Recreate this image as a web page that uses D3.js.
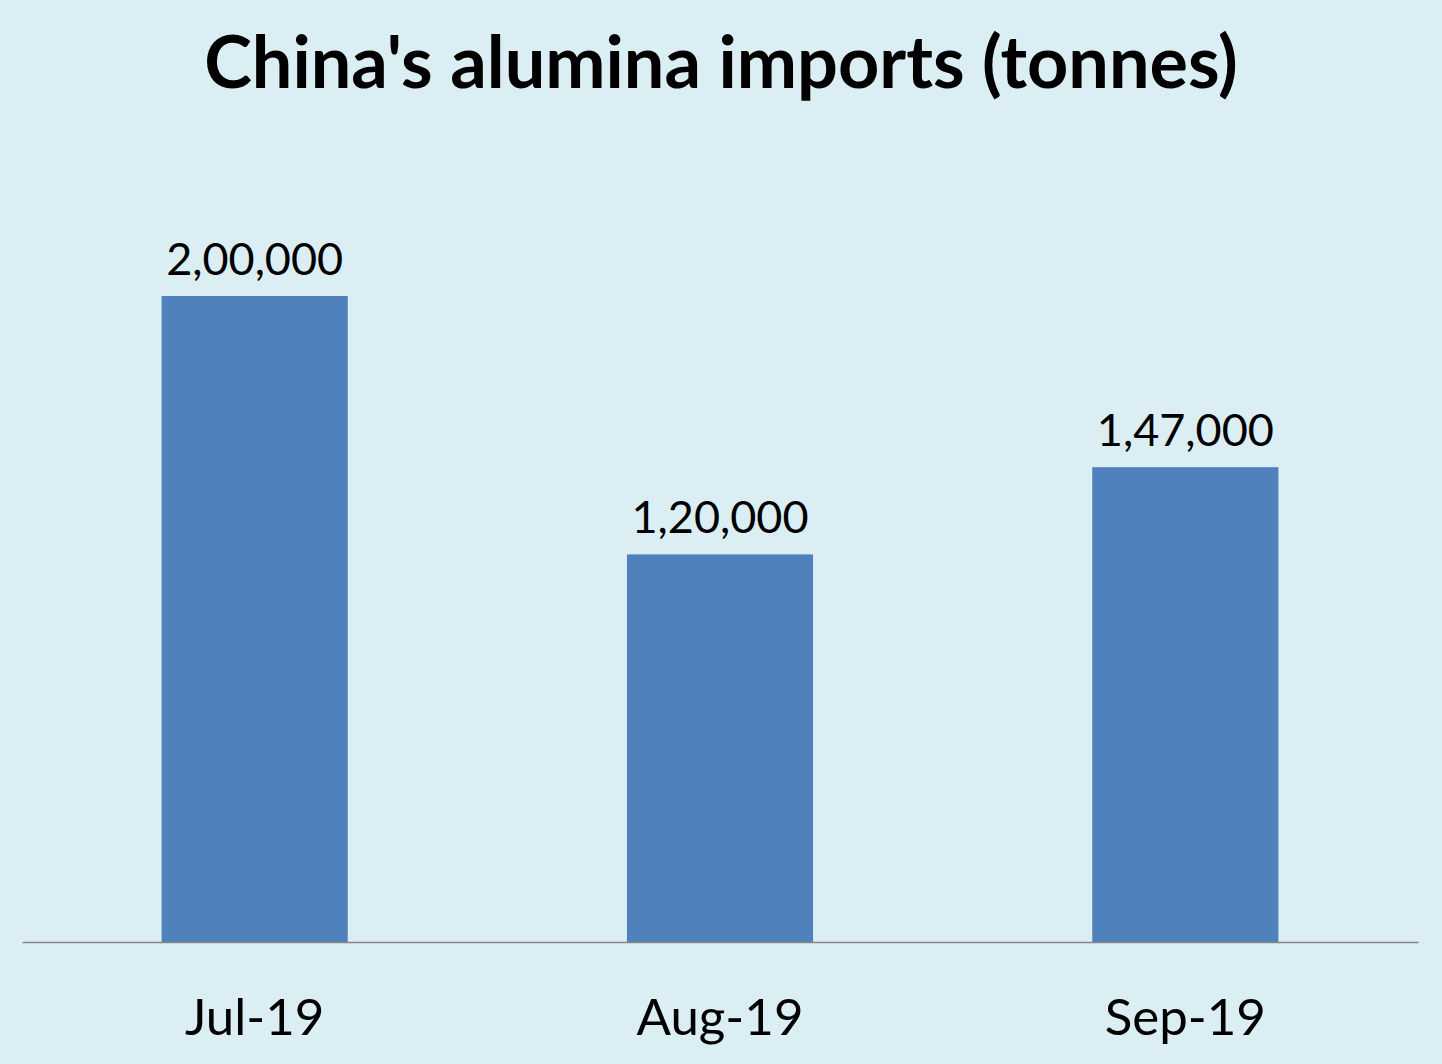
<!DOCTYPE html>
<html>
<head>
<meta charset="utf-8">
<script src="https://cdn.jsdelivr.net/npm/d3@7"></script>
<style>
  html, body { margin: 0; padding: 0; background: #dbeef4; }
  svg { display: block; font-family: Lato, "Open Sans", sans-serif; }
</style>
</head>
<body>
<div id="chart"></div>
<script>
const months = ['Jul-19', 'Aug-19', 'Sep-19'];
const imports = [200000, 120000, 147000];
const valueLabels = ['2,00,000', '1,20,000', '1,47,000'];

const width = 1442;
const height = 1064;
const margin = { top: 296, right: 24, bottom: 122, left: 22 };

const svg = d3.select('#chart').append('svg').attr('width', width).attr('height', height);

svg.append('rect').attr('width', width).attr('height', height).attr('fill', '#dbeef4');

svg.append('text')
  .attr('x', width / 2)
  .attr('y', 88)
  .attr('text-anchor', 'middle')
  .attr('font-size', 72)
  .attr('font-weight', 700)
  .attr('fill', '#000')
  .text("China's alumina imports (tonnes)");

const x = d3.scaleBand()
  .domain(months)
  .range([margin.left, width - margin.right])
  .paddingInner(0.6)
  .paddingOuter(0.3);

const y = d3.scaleLinear()
  .domain([0, 200000])
  .range([height - margin.bottom, margin.top]);

const data = months.map((m, i) => ({ month: m, value: imports[i], label: valueLabels[i] }));

svg.append('g')
  .selectAll('rect')
  .data(data)
  .enter()
  .append('rect')
  .attr('x', (d) => x(d.month))
  .attr('y', (d) => y(d.value))
  .attr('width', x.bandwidth())
  .attr('height', (d) => y(0) - y(d.value))
  .attr('fill', '#4f81bd');

svg.append('g')
  .selectAll('text')
  .data(data)
  .enter()
  .append('text')
  .attr('x', (d) => x(d.month) + x.bandwidth() / 2)
  .attr('y', (d) => y(d.value) - 21)
  .attr('text-anchor', 'middle')
  .attr('font-size', 45)
  .attr('fill', '#000')
  .text((d) => d.label);

const xAxis = svg.append('g')
  .attr('transform', `translate(0,${y(0)})`)
  .call(d3.axisBottom(x).tickSize(0).tickPadding(0));

xAxis.select('.domain')
  .attr('stroke', '#868686')
  .attr('stroke-width', 1.5);

xAxis.selectAll('text')
  .attr('dy', null)
  .attr('y', 93)
  .attr('font-size', 51)
  .attr('font-family', 'Lato, "Open Sans", sans-serif')
  .attr('fill', '#000');
</script>
</body>
</html>
